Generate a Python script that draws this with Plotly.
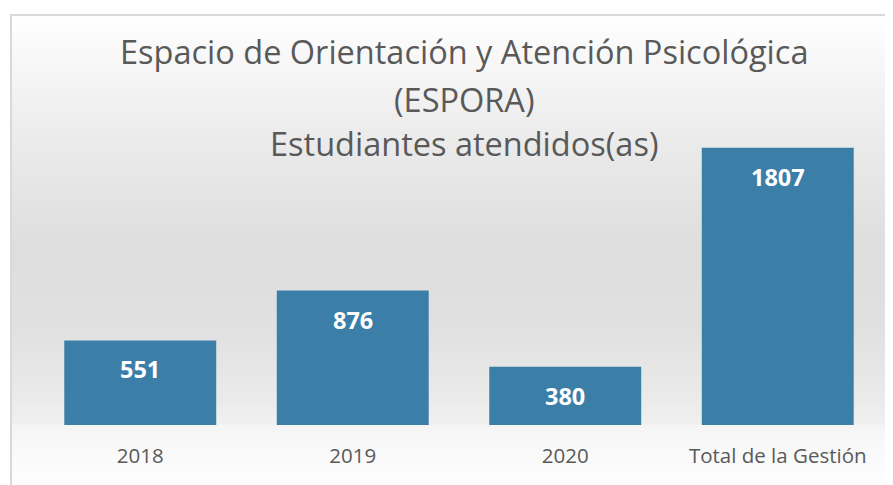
import base64
import plotly.graph_objects as go

# ---- data ----
categories = ["2018", "2019", "2020", "Total de la Gestión"]
values = [551, 876, 380, 1807]
title_lines = [
    "Espacio de Orientación y Atención Psicológica",
    "(ESPORA)",
    "Estudiantes atendidos(as)",
]

# ---- figure geometry (pixels); page shows the figure offset by the body margin ----
W, H = 893, 485
OFF = 8
ML, MR, MT, MB = 26, 17, 110, 68
PW, PH = W - ML - MR, H - MT - MB


def px_x(x):  # page pixel -> paper
    return (x - OFF - ML) / PW


def px_y(y):  # page pixel -> paper
    return (H - MB - (y - OFF)) / PH


# background: soft vertical gradient with a light border (chart area frame)
bx0, by0 = 10, 14          # page pixels
bw, bh = W + OFF - bx0, H + OFF - by0
svg = f'''<svg xmlns="http://www.w3.org/2000/svg" width="{bw}" height="{bh}" viewBox="0 0 {bw} {bh}" preserveAspectRatio="none">
<defs><linearGradient id="g" x1="0" y1="0" x2="0" y2="1">
<stop offset="0" stop-color="#ffffff"/>
<stop offset="0.10" stop-color="#f7f7f7"/>
<stop offset="0.28" stop-color="#eaeaea"/>
<stop offset="0.48" stop-color="#dedede"/>
<stop offset="0.65" stop-color="#e0e0e0"/>
<stop offset="0.80" stop-color="#eaeaea"/>
<stop offset="0.855" stop-color="#f0f0f0"/>
<stop offset="0.86" stop-color="#f5f5f5"/>
<stop offset="1" stop-color="#ffffff"/>
</linearGradient></defs>
<rect x="0" y="0" width="{bw}" height="{bh}" fill="url(#g)"/>
<line x1="1" y1="0" x2="1" y2="{bh}" stroke="#d9d9d9" stroke-width="2"/>
<line x1="0" y1="1" x2="{bw}" y2="1" stroke="#d9d9d9" stroke-width="2"/>
</svg>'''
src = "data:image/svg+xml;base64," + base64.b64encode(svg.encode()).decode()

fig = go.Figure()
fig.add_trace(go.Bar(
    x=categories,
    y=values,
    marker=dict(color="#3b7ea8", line=dict(width=0)),
    hoverinfo="x+y",
))

annotations = []
for i, v in enumerate(values):
    annotations.append(dict(
        x=i, y=v, xref="x", yref="y", text=f"<b>{v}</b>", showarrow=False,
        yanchor="middle", yshift=-29,
        font=dict(family="Open Sans", size=23.5, color="#ffffff"),
    ))

title_centers = [52, 99, 143]   # page pixels
for t, yc in zip(title_lines, title_centers):
    annotations.append(dict(
        x=px_x(464), y=px_y(yc), xref="paper", yref="paper", text=t,
        showarrow=False, xanchor="center", yanchor="middle",
        font=dict(family="Open Sans", size=32.5, color="#595959"),
    ))

fig.update_layout(
    width=W, height=H,
    margin=dict(l=ML, r=MR, t=MT, b=MB, pad=0),
    paper_bgcolor="#ffffff",
    plot_bgcolor="rgba(0,0,0,0)",
    bargap=0.285,
    showlegend=False,
    annotations=annotations,
    images=[dict(
        source=src, xref="paper", yref="paper",
        x=px_x(bx0), y=px_y(by0), sizex=bw / PW, sizey=bh / PH,
        xanchor="left", yanchor="top", sizing="stretch", layer="below",
    )],
    xaxis=dict(
        type="category",
        range=[-0.5, len(categories) - 0.5],
        showgrid=False, zeroline=False, showline=False, ticks="",
        tickfont=dict(family="Open Sans", size=20.5, color="#595959"),
        ticklabelstandoff=16,
    ),
    yaxis=dict(
        range=[0, 2000], visible=False, showgrid=False, zeroline=False,
    ),
)

fig.write_html("out.html")
